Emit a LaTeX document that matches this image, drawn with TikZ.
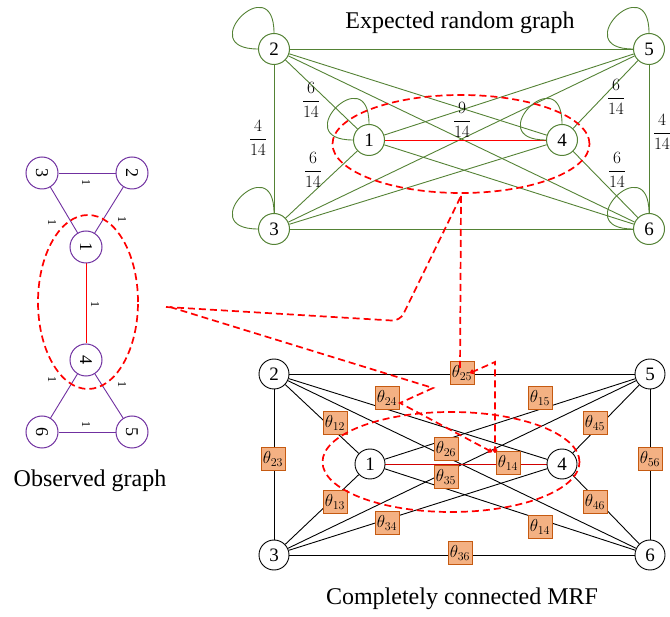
\documentclass[tikz,border=0pt]{standalone}
\usepackage{fontspec}
\setmainfont{Liberation Serif}
\usetikzlibrary{arrows.meta,shapes.geometric,backgrounds}
\definecolor{ggreen}{HTML}{548235}
\definecolor{gpurple}{HTML}{7030A0}
\definecolor{boxfill}{HTML}{F4B183}
\definecolor{boxdraw}{HTML}{C55A11}
\definecolor{dred}{HTML}{D00000}
\begin{document}
\begin{tikzpicture}[x=1pt,y=1pt,
  gnode/.style={circle,draw=ggreen,line width=1pt,minimum size=31pt,inner sep=0pt,font=\fontsize{19}{19}\selectfont,fill=white},
  pnode/.style={circle,draw=gpurple,line width=1pt,minimum size=32pt,inner sep=0pt,font=\fontsize{18}{18}\selectfont,fill=white},
  knode/.style={circle,draw=black,line width=0.9pt,minimum size=30pt,inner sep=0pt,font=\fontsize{19}{19}\selectfont,fill=white},
  gedge/.style={draw=ggreen,line width=0.9pt},
  pedge/.style={draw=gpurple,line width=0.9pt},
  kedge/.style={draw=black,line width=0.9pt},
  selfloop/.style={draw=ggreen,line width=0.9pt,out=90,in=180,looseness=1,min distance=66pt},
  fraclab/.style={font=\fontsize{17}{17}\selectfont,inner sep=0pt},
  thetabox/.style={draw=boxdraw,fill=boxfill,line width=0.9pt,minimum width=24pt,minimum height=23pt,inner sep=0pt,font=\fontsize{18}{18}\selectfont},
  onelab/.style={font=\fontsize{12}{12}\selectfont,rotate=-90,inner sep=1pt},
  reddash/.style={draw=red,line width=1.7pt,dash pattern=on 7pt off 4pt},
  caption/.style={font=\fontsize{24}{24}\selectfont,inner sep=0pt}
]
\useasboundingbox (0,0) rectangle (670,-617);

% ---------------- Expected random graph ----------------
\node[caption] (ttop) at (460,-23) {Expected random graph};
\node[gnode] (t2) at (274,-49) {2};
\node[gnode] (t5) at (649,-49) {5};
\node[gnode] (t3) at (274,-229) {3};
\node[gnode] (t6) at (649,-229) {6};
\node[gnode] (t1) at (369,-140) {1};
\node[gnode] (t4) at (562,-140) {4};
\begin{scope}[on background layer]
\foreach \a/\b in {t2/t5,t2/t3,t5/t6,t3/t6,t2/t1,t2/t4,t2/t6,t5/t1,t5/t4,t5/t3,t3/t1,t3/t4,t6/t1,t6/t4}
  \draw[gedge] (\a) -- (\b);
\draw[draw=red,line width=0.9pt] (t1) -- (t4);
\foreach \n in {t1,t2,t3,t4,t5,t6}
  \draw[selfloop] (\n) to (\n);
\end{scope}
\node[fraclab] (f21) at (311,-100) {$\displaystyle\frac{6}{14}$};
\node[fraclab] (f31) at (313,-170) {$\displaystyle\frac{6}{14}$};
\node[fraclab] (f23) at (258,-138) {$\displaystyle\frac{4}{14}$};
\node[fraclab] (f14) at (462,-120) {$\displaystyle\frac{9}{14}$};
\node[fraclab] (f54) at (616,-97) {$\displaystyle\frac{6}{14}$};
\node[fraclab] (f64) at (617,-170) {$\displaystyle\frac{6}{14}$};
\node[fraclab] (f56) at (662,-132) {$\displaystyle\frac{4}{14}$};
\node[reddash,ellipse,minimum width=257pt,minimum height=98pt,inner sep=0pt] (etop) at (461,-144) {};

% ---------------- Observed graph ----------------
\node[pnode] (o3) at (42,-173) {\rotatebox{-90}{3}};
\node[pnode] (o2) at (132,-173) {\rotatebox{-90}{2}};
\node[pnode] (o1) at (86,-247) {\rotatebox{-90}{1}};
\node[pnode] (o4) at (86,-360) {\rotatebox{-90}{4}};
\node[pnode] (o6) at (42,-432) {\rotatebox{-90}{6}};
\node[pnode] (o5) at (132,-432) {\rotatebox{-90}{5}};
\begin{scope}[on background layer]
\draw[pedge] (o3) -- (o2);
\draw[pedge] (o3) -- (o1);
\draw[pedge] (o2) -- (o1);
\draw[draw=red,line width=0.9pt] (o1) -- (o4);
\draw[pedge] (o4) -- (o6);
\draw[pedge] (o4) -- (o5);
\draw[pedge] (o6) -- (o5);
\end{scope}
\node[onelab] (l32) at (86,-183) {1};
\node[onelab] (l31) at (52,-223) {1};
\node[onelab] (l21) at (122,-220) {1};
\node[onelab] (l14) at (95,-305) {1};
\node[onelab] (l46) at (52,-380) {1};
\node[onelab] (l45) at (122,-385) {1};
\node[onelab] (l65) at (86,-425) {1};
\node[reddash,ellipse,minimum width=100pt,minimum height=174pt,inner sep=0pt] (eleft) at (88,-302) {};
\node[caption] (tleft) at (90,-481) {Observed graph};

% ---------------- Completely connected MRF ----------------
\node[knode] (b2) at (274,-374) {2};
\node[knode] (b5) at (650,-374) {5};
\node[knode] (b3) at (274,-555) {3};
\node[knode] (b6) at (650,-555) {6};
\node[knode] (b1) at (370,-464) {1};
\node[knode] (b4) at (562,-464) {4};
\begin{scope}[on background layer]
\foreach \a/\b in {b2/b5,b2/b3,b5/b6,b3/b6,b2/b1,b2/b4,b2/b6,b5/b1,b5/b4,b5/b3,b3/b1,b3/b4,b6/b1,b6/b4}
  \draw[kedge] (\a) -- (\b);
\draw[draw=dred,line width=0.9pt] (b1) -- (b4);
\end{scope}
\node[thetabox] (h25) at (462,-373) {$\theta_{25}$};
\node[thetabox] (h24) at (387,-398) {$\theta_{24}$};
\node[thetabox] (h15) at (540,-398) {$\theta_{15}$};
\node[thetabox] (h12) at (335,-423) {$\theta_{12}$};
\node[thetabox] (h45) at (595,-423) {$\theta_{45}$};
\node[thetabox] (h23) at (273,-459) {$\theta_{23}$};
\node[thetabox] (h56) at (650,-459) {$\theta_{56}$};
\node[thetabox] (h26) at (446,-449) {$\theta_{26}$};
\node[thetabox] (h35) at (446,-477) {$\theta_{35}$};
\node[thetabox] (h14) at (508,-463) {$\theta_{14}$};
\node[thetabox] (h13) at (335,-502) {$\theta_{13}$};
\node[thetabox] (h46) at (595,-502) {$\theta_{46}$};
\node[thetabox] (h34) at (387,-523) {$\theta_{34}$};
\node[thetabox] (h16) at (540,-527) {$\theta_{14}$};
\node[thetabox] (h36) at (460,-553) {$\theta_{36}$};
\node[reddash,ellipse,minimum width=257pt,minimum height=100pt,inner sep=0pt] (ebot) at (451,-462) {};
\node[caption] (tbot) at (462,-599) {Completely connected MRF};

% ---------------- red dashed connectors ----------------
\coordinate (c1) at (166,-307);
\coordinate (c2) at (170,-307);
\coordinate (k1) at (400,-321);
\coordinate (k2) at (433,-388);
\coordinate (k3) at (400,-403);
\coordinate (k4) at (492,-452);
\coordinate (k5) at (461,-196);
\coordinate (k6) at (460,-372);
\coordinate (k7) at (470,-373);
\coordinate (k8) at (495,-362);
\coordinate (k9) at (495,-453);
\draw[reddash,rounded corners=8pt] (c1) -- (k1) -- (k5);
\draw[reddash,-{To[length=4pt,width=5pt]}] (c2) -- (k2) -- (k3) -- (k4);
\draw[reddash] (k5) -- (k6);
\draw[reddash,{To[length=4pt,width=5pt]}-{To[length=4pt,width=5pt]}] (k7) -- (k8) -- (k9);
\end{tikzpicture}
\end{document}
